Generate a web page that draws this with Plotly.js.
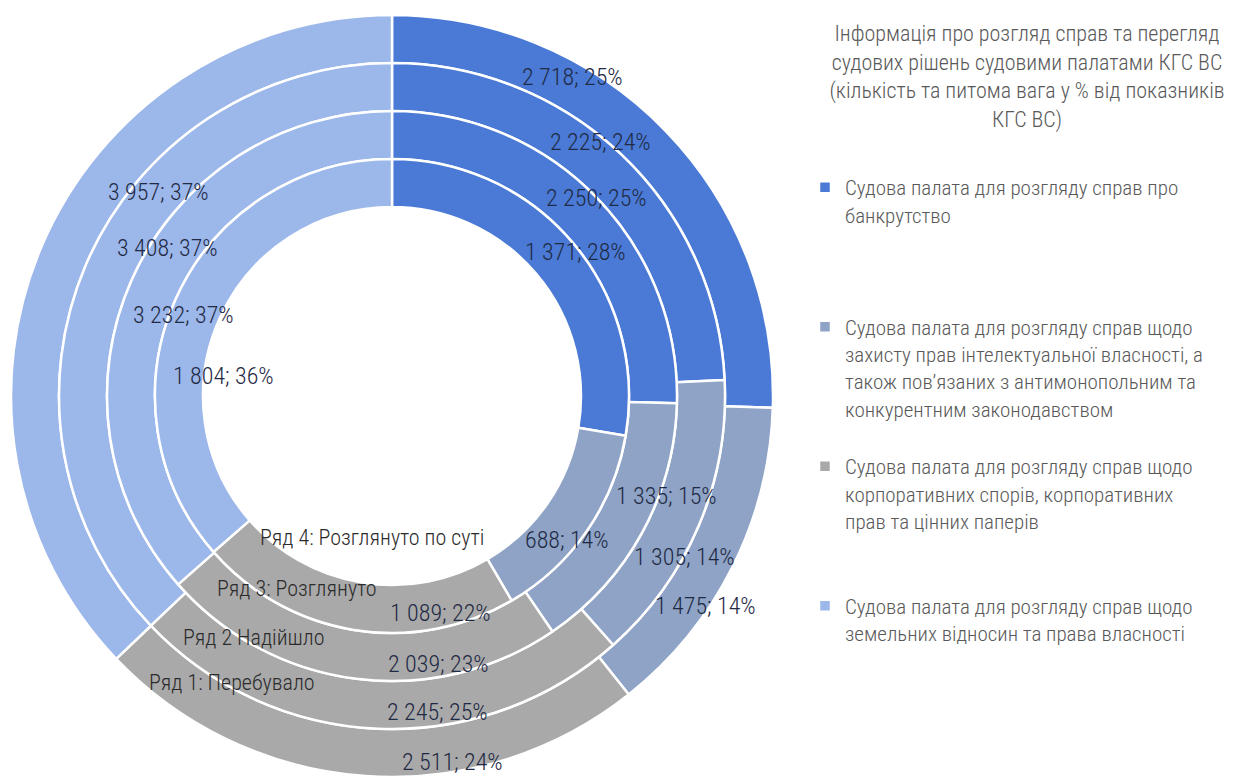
<!DOCTYPE html>
<html>
<head>
<meta charset="utf-8">
<script src="https://cdn.plot.ly/plotly-3.0.1.min.js"></script>
<style>
  html, body { margin: 0; padding: 0; background: #ffffff; }
  #chart { width: 1237px; height: 783px; }
</style>
</head>
<body>
<div id="chart"></div>
<script>
// ---------------- DATA ----------------
const categories = [
  'Судова палата для розгляду справ про<br>банкрутство',
  'Судова палата для розгляду справ щодо<br>захисту прав інтелектуальної власності, а<br>також пов’язаних з антимонопольним та<br>конкурентним законодавством',
  'Судова палата для розгляду справ щодо<br>корпоративних спорів, корпоративних<br>прав та цінних паперів',
  'Судова палата для розгляду справ щодо<br>земельних відносин та права власності'
];
const seriesNames = ['Ряд 1: Перебувало', 'Ряд 2 Надійшло', 'Ряд 3: Розглянуто', 'Ряд 4: Розглянуто по суті'];
const ring1Values = [2718, 1475, 2511, 3957];
const ring2Values = [2225, 1305, 2245, 3408];
const ring3Values = [2250, 1335, 2039, 3232];
const ring4Values = [1371, 688, 1089, 1804];
const ring1Pct = [25, 14, 24, 37];
const ring2Pct = [24, 14, 25, 37];
const ring3Pct = [25, 15, 23, 37];
const ring4Pct = [28, 14, 22, 36];
const chartTitle = 'Інформація про розгляд справ та перегляд<br>судових рішень судовими палатами КГС ВС<br>(кількість та питома вага у % від показників<br>КГС ВС)';

// ---------------- STYLE / LAYOUT ----------------
const W = 1237, H = 783;
const FONT = '"Roboto Condensed", Roboto, sans-serif';
const WEIGHT = 300;
const colors = ['#4a7ad5', '#8ea3c5', '#a9a9a9', '#9cb7ea'];
const center = {x: 392, y: 396};
const radii = [381, 333, 285, 237, 189];

// label anchor positions in pixels (per ring, per category)
const valueLabelPos = [
  [[572, 77], [705, 606], [452, 762], [158, 192]],
  [[600, 142], [684, 557], [437, 712], [167, 248]],
  [[596, 198], [666, 496], [438, 664], [183, 315]],
  [[575, 252], [567, 540], [440, 613], [223, 376]]
];
const seriesLabelPos = [[232, 682], [253, 637], [297, 588], [372, 537]];
// blank lines appended to legend entries to reproduce their spacing
const legendPad = [3, 1, 2, 0];

const rings = [ring1Values, ring2Values, ring3Values, ring4Values];
const pcts = [ring1Pct, ring2Pct, ring3Pct, ring4Pct];

function fmt(n) {
  return String(n).replace(/\B(?=(\d{3})+(?!\d))/g, ' ');
}

const legendLabels = categories.map((c, i) => c + '<br>\u00a0'.repeat(legendPad[i]));

const traces = rings.map((vals, i) => {
  const R = radii[i], r = radii[i + 1];
  return {
    type: 'pie',
    name: seriesNames[i],
    labels: legendLabels,
    values: vals,
    sort: false,
    direction: 'clockwise',
    rotation: 0,
    hole: r / R,
    textinfo: 'none',
    hoverinfo: 'label+value+percent',
    showlegend: i === 0,
    marker: {colors: colors, line: {color: '#ffffff', width: 2.5}},
    domain: {
      x: [(center.x - R) / W, (center.x + R) / W],
      y: [(H - center.y - R) / H, (H - center.y + R) / H]
    }
  };
});

const annotations = [];
rings.forEach((vals, i) => {
  vals.forEach((v, j) => {
    const p = valueLabelPos[i][j];
    annotations.push({
      xref: 'paper', yref: 'paper',
      x: p[0] / W, y: 1 - p[1] / H,
      xanchor: 'center', yanchor: 'middle',
      showarrow: false,
      text: fmt(v) + '; ' + pcts[i][j] + '%',
      font: {family: FONT, size: 24, color: '#1f2a44', weight: WEIGHT}
    });
  });
});
seriesNames.forEach((s, i) => {
  const p = seriesLabelPos[i];
  annotations.push({
    xref: 'paper', yref: 'paper',
    x: p[0] / W, y: 1 - p[1] / H,
    xanchor: 'center', yanchor: 'middle',
    showarrow: false,
    text: s,
    font: {family: FONT, size: 22, color: '#2b2b2b', weight: WEIGHT}
  });
});

const layout = {
  width: W, height: H,
  margin: {l: 0, r: 0, t: 0, b: 0},
  paper_bgcolor: '#ffffff',
  plot_bgcolor: '#ffffff',
  font: {family: FONT, color: '#595959', weight: WEIGHT},
  title: {
    text: chartTitle,
    x: 1027 / W, xanchor: 'center', xref: 'paper',
    y: 1 - 41 / H, yanchor: 'top', yref: 'container',
    font: {family: FONT, size: 22, color: '#595959', weight: WEIGHT}
  },
  showlegend: true,
  legend: {
    x: 805 / W, xanchor: 'left',
    y: 1 - 167 / H, yanchor: 'top',
    valign: 'top',
    traceorder: 'normal',
    font: {family: FONT, size: 21, color: '#595959', weight: WEIGHT},
    bgcolor: 'rgba(0,0,0,0)'
  },
  annotations: annotations
};

Plotly.newPlot('chart', traces, layout, {displayModeBar: false, responsive: false});
</script>
</body>
</html>
